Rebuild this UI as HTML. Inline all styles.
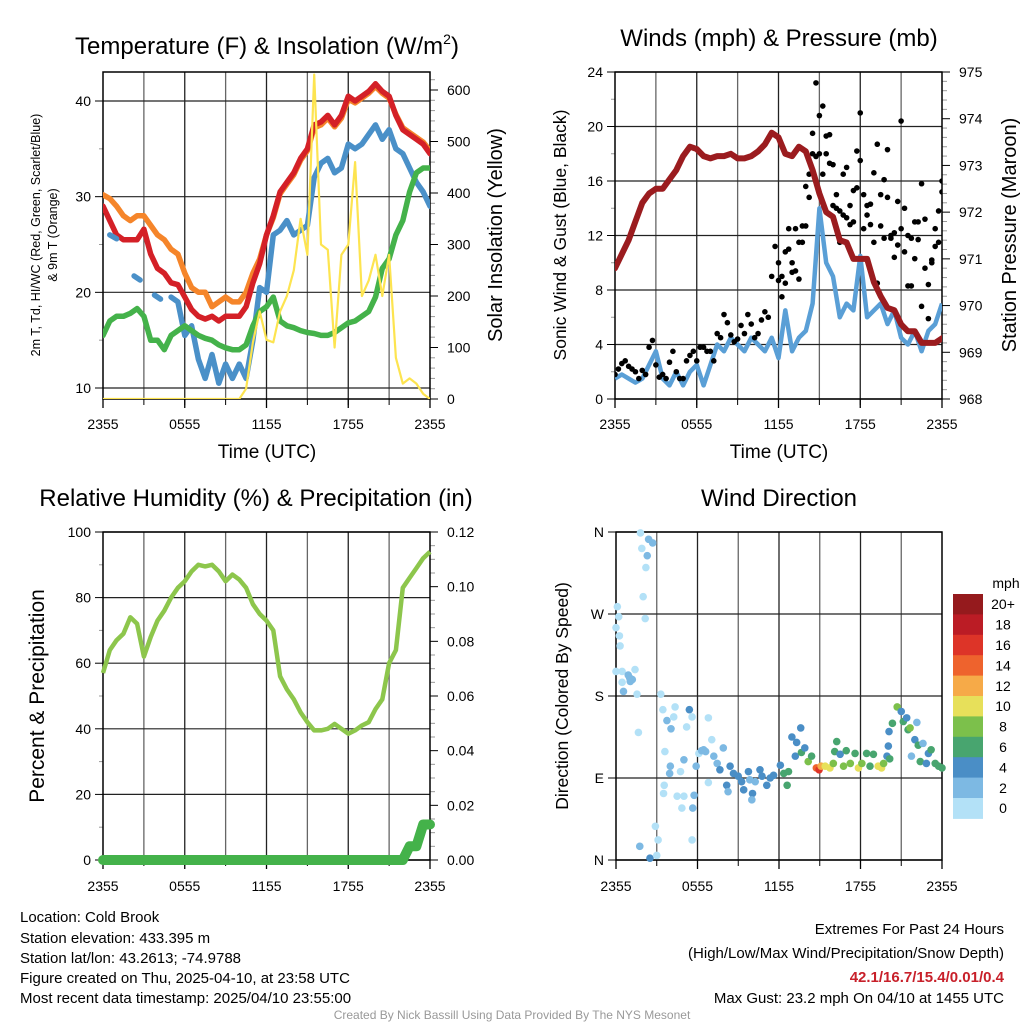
<!DOCTYPE html>
<html><head><meta charset="utf-8">
<style>
html,body{margin:0;padding:0;background:#fff;}
svg{display:block;font-family:"Liberation Sans",Arial,sans-serif;}
</style></head>
<body>
<svg id="c" width="1024" height="1024" viewBox="0 0 1024 1024" xmlns="http://www.w3.org/2000/svg">
<g id="g1"></g>
<g id="g2"></g>
<g id="g3"></g>
<g id="g4"></g>
<text x="267" y="54" text-anchor="middle" font-size="24">Temperature (F) &amp; Insolation (W/m<tspan font-size="14" dy="-10">2</tspan><tspan dy="10">)</tspan></text>
<g font-size="15" fill="#000">
<text x="20" y="922">Location: Cold Brook</text>
<text x="20" y="943">Station elevation: 433.395 m</text>
<text x="20" y="963">Station lat/lon: 43.2613; -74.9788</text>
<text x="20" y="983">Figure created on Thu, 2025-04-10, at 23:58 UTC</text>
<text x="20" y="1003">Most recent data timestamp: 2025/04/10 23:55:00</text>
<text x="1004" y="934" text-anchor="end">Extremes For Past 24 Hours</text>
<text x="1004" y="958" text-anchor="end">(High/Low/Max Wind/Precipitation/Snow Depth)</text>
<text x="1004" y="982" text-anchor="end" fill="#c8202a" font-weight="bold">42.1/16.7/15.4/0.01/0.4</text>
<text x="1004" y="1003" text-anchor="end">Max Gust: 23.2 mph On 04/10 at 1455 UTC</text>
<text x="512" y="1019" text-anchor="middle" font-size="12" fill="#999">Created By Nick Bassill Using Data Provided By The NYS Mesonet</text>
</g>
</svg>
<script>
// time grid (hours since 2355), half-hour steps
const hours = [0,0.5,1,1.5,2,2.5,3,3.5,4,4.5,5,5.5,6,6.5,7,7.5,8,8.5,9,9.5,10,10.5,11,11.5,12,12.5,13,13.5,14,14.5,15,15.5,16,16.5,17,17.5,18,18.5,19,19.5,20,20.5,21,21.5,22,22.5,23,23.5,24];
const tempRed = [29,27.5,26,25.5,25.5,25.5,26.6,24,22.5,22,21,20.8,19.5,18.2,17.5,17.2,17.5,17,17.5,17.5,17.5,18.5,21,23,26,28,30.5,31.5,32.5,34,35,37.5,37.8,38.5,37.5,38.5,40.5,40,40.5,41,41.8,41,40.5,38.5,37,36.5,36,35.5,34.5];
const tempOrange = [30.2,29.8,29,28,27.5,28,28,27,26,25.5,24.5,24,22,20.5,20,20,18.5,19,19.5,19,19,20,22,23.5,26,27.8,30.3,31.3,32.3,33.8,34.8,37.2,37.5,38.2,37.3,38.2,40.2,39.8,40.3,40.8,41.5,40.8,40.3,38.6,37.2,36.7,36.2,35.7,34.8];
const tempBlue = [null,26,25.6,null,null,21.5,null,null,19.5,null,19.5,19,15.5,16.5,13,11,13.5,10.5,12.5,11,12.5,11,15,20.5,20,26,26.5,27.5,26,26.5,27,32,33.5,34,32.5,33,35.5,35,35.5,36.5,37.5,36,37,35,34.5,33,31.5,30.5,29];
const tempGreen = [15.5,17,17.5,17.5,17.8,18.3,17.5,15,15,14,15.5,16,16.5,16,15.5,15.2,15,14.5,14.2,14,14,14.5,16.5,18,18.5,19.5,17,16.5,16.3,16,15.8,15.7,15.5,15.5,15.8,16.3,16.8,17,17.5,18,19.5,22.5,23.5,26,27.5,30.5,32.5,33,33];
const insolation = [0,0,0,0,0,0,0,0,0,0,0,0,0,0,0,0,0,0,0,0,0,20,110,170,115,110,170,200,250,350,280,630,300,290,100,280,300,460,200,230,280,200,280,80,30,40,30,10,0];
const windSpeed = [1.5,1.8,1.5,1.2,1.5,2.5,3.5,1.5,1,2,1,2,2.5,1,2.5,4,3.5,4.5,4,3.5,4.5,4,3.5,4.5,3,6.5,3.5,4.5,5,7,14,10,9,6,7,6.5,10.5,6,6.5,7,5.5,6.5,4.5,4,5,3.5,5,5.5,7];
const pressure = [970.8,971.1,971.4,971.8,972.2,972.4,972.5,972.5,972.7,972.9,973.2,973.4,973.35,973.2,973.15,973.2,973.2,973.25,973.15,973.15,973.2,973.3,973.45,973.7,973.6,973.25,973.2,973.4,973.3,972.9,972.4,972.0,971.9,971.4,971.35,971.0,971.0,971.0,970.5,970.2,969.95,969.9,969.6,969.45,969.45,969.2,969.2,969.2,969.3];
const humidity = [57,64,67,69,74,72,62,68,73,76,80,83,85,88,90,89.5,90,88,85,87,85.5,83,78,75,73,70,56,52,49,45,42,39.5,39.5,40,41.5,40,38.5,39.5,41,42,46,49,60,64,83,86,89,92,94];
const precip = [0,0,0,0,0,0,0,0,0,0,0,0,0,0,0,0,0,0,0,0,0,0,0,0,0,0,0,0,0,0,0,0,0,0,0,0,0,0,0,0,0,0,0,0,0,0.005,0.005,0.013,0.013];
// gusts at quarter-hour steps
const gustA = [1.8,2.2,2.6,2.8,2.4,2.2,2.0,1.5,2.1,1.8,3.8,4.3,2.5,1.6,1.8,1.5,2.7,3.5,2.0,1.5,1.5,2.8,3.2,3.5,2.8,3.8,3.8,3.5,3.5,2.8,4.8,4.5,6.2,5.6,4.7,4.2,4.4,5.4,4.8,6.2,5.5,4.5,4.8,5.8,6.4,6.0,9.0,11.2,8.7,7.5,10.8,11.0,9.3,12.5,11.5,12.7,15.6,14.8,18.0,23.2,20.8,21.5,18.0,19.4,17.2,14.0,11.5,13.5,17.0,14.2,13.0,15.5,21.0,15.0,13.5,14.3,11.5,8.5,12.7,16.1,18.3,11.8,12.2,14.5,20.4,10.8,12.0,8.3,13.0,11.7,6.8,13.2,5.9,10.2,11.2,11.5,15.2];
const gustB = [10.0,9.0,8.5,12.5,10.0,9.4,8.8,11.5,12.7,16.5,19.5,17.8,18.0,16.5,19.3,17.3,14.2,15.0,13.8,16.5,13.3,12.8,15.3,18.2,17.5,12.5,14.2,12.8,16.6,18.7,15.0,11.8,14.8,12.0,10.4,11.3,12.5,14.0,8.3,11.8,10.3,13.0,15.8,9.6,8.4,10.0,12.5,13.8,16.0];
// wind direction observations
const dirTimes = [0,0.1,0.2,0.25,0.3,0,0.45,0.45,0.55,0.9,1.05,1.0,1.2,1.4,1.55,1.65,1.8,1.9,2.0,2.15,2.2,2.3,2.4,2.7,2.9,1.75,2.5,3.0,3.1,3.3,3.45,3.6,3.55,3.5,3.75,4.05,4.0,3.95,4.35,4.25,4.5,4.75,4.85,5.0,5.0,5.2,5.4,5.6,5.6,5.75,5.65,5.9,6.1,6.3,6.45,6.6,6.8,6.8,7.05,7.2,7.45,7.65,7.9,8.15,8.25,8.4,8.65,9.0,9.25,9.4,9.75,9.85,10.05,10.0,10.25,10.6,10.75,11.1,11.35,11.6,12.1,12.35,12.6,12.7,12.95,13.2,13.3,13.6,13.65,13.9,14.15,14.4,14.75,14.95,15.1,15.4,15.75,16.0,16.1,16.25,16.5,16.75,16.95,17.25,17.6,17.85,18.1,18.45,18.7,18.95,19.3,19.55,19.7,19.95,20.05,20.15,20.1,20.35,20.7,21.0,21.15,21.4,21.5,21.65,21.75,22.0,22.15,22.25,22.4,22.6,22.85,23.0,23.2,23.5,23.75,24.0];
const dirDegrees = [255,278,267,246,235,207,207,195,185,203,196,200,198,209,182,140,359,342,289,265,321,334,352,348,37,15,2,5,22,182,165,119,82,73,153,144,103,95,168,157,70,97,57,70,110,146,165,157,22,71,57,103,117,120,121,119,156,85,132,114,106,99,123,82,75,103,95,92,86,77,97,88,73,66,86,99,92,82,90,93,104,95,82,97,135,114,129,145,118,123,108,114,101,99,103,103,101,106,119,130,116,103,120,106,117,101,106,117,103,116,103,101,106,114,125,111,141,150,168,163,152,156,143,145,114,132,151,126,108,128,106,117,121,106,103,101];
const dirSpeeds = [1,1,1,1,1,1,1,1,2.5,2,2,2.5,2,1,1,1,1,1,1,1,1,3,2,2.5,1,2.5,4,1,1,0.5,1,1,1,1,3,3,3,3,1,1,1,1,1,0.5,2,1,4,1,1,3,3,3,1,2,2,2,1,1,1,2,2,4,3,4,3,4,4,4,4,4,4,2,4,3,2,4,4,4,4,4,4,7,7,7,4,4,4,4,6,4,8,6,14,16,12,10,10,8,6,6,4,8,6,8,6,10,8,6,6,6,10,10,8,4,4,6,4,6,8,4,6,4,6,8,2,4,2,6,6,2,4,4,6,6,6,6];
const speedBins = ["0","2","4","6","8","10","12","14","16","18","20+"];
const binColors = ["#b3e1f7","#7db9e3","#4a8ec6","#48a56f","#7cc04b","#e7e05a","#f6aa48","#ee632d","#dd3428","#bb1c25","#951a1d"];

const NS="http://www.w3.org/2000/svg";
function el(tag, attrs, parent){const e=document.createElementNS(NS,tag);for(const k in attrs)e.setAttribute(k,attrs[k]);parent.appendChild(e);return e;}
function lin(d0,d1,r0,r1){return v=>r0+(v-d0)*(r1-r0)/(d1-d0);}
function txt(parent,x,y,s,size,anchor,name,extra){const t=el('text',{x:x,y:y,'font-size':size,'text-anchor':anchor||'start'},parent);


if(extra)for(const k in extra)t.setAttribute(k,extra[k]);t.textContent=s;return t;}
function linePath(xs,ys,sx,sy){let d='',pen=false;for(let i=0;i<xs.length;i++){if(ys[i]==null){pen=false;continue;}const X=sx(xs[i]),Y=sy(ys[i]);
 const isolated=!pen&&(i+1>=ys.length||ys[i+1]==null);
 if(isolated){d+='M'+(X-3).toFixed(1)+' '+(Y-2).toFixed(1)+'L'+(X+3).toFixed(1)+' '+(Y+2).toFixed(1);pen=false;continue;}
 d+=(pen?'L':'M')+X.toFixed(1)+' '+Y.toFixed(1);pen=true;}return d;}

function frame(g,x0,x1,y0,y1,sy,lt,sy2,rt){
  const sx=lin(0,24,x0,x1);
  for(let h=3;h<24;h+=3){const l=el('line',{x1:sx(h),x2:sx(h),y1:y0,y2:y1,stroke:(h%6===0?'#222':'#666'),'stroke-width':1.3},g);
  
  
  const tk=el('line',{x1:sx(h),x2:sx(h),y1:y1,y2:y1+6,stroke:'#000','stroke-width':1},g);
  
  }
  for(let h=0;h<=24;h+=6){const tk=el('line',{x1:sx(h),x2:sx(h),y1:y1,y2:y1+9,stroke:'#000','stroke-width':1.3},g);
  
  }
  lt.forEach(v=>{const y=sy(v.v);
    if(v.grid){const l=el('line',{x1:x0,x2:x1,y1:y,y2:y,stroke:'#222','stroke-width':1.2},g);
    
    }
    const tk=el('line',{x1:x0-(v.minor?4:8),x2:x0,y1:y,y2:y,stroke:v.minor?'#999':'#000','stroke-width':1},g);
    
    
    if(!v.minor)txt(g,x0-12,y+5,v.l,14,'end','left-tick-label');});
  if(rt)rt.forEach(v=>{const y=sy2(v.v);
    const tk=el('line',{x1:x1,x2:x1+(v.minor?5:8),y1:y,y2:y,stroke:v.minor?'#999':'#000','stroke-width':1},g);
    
    
    if(!v.minor)txt(g,x1+17,y+5,v.l,14,'start','right-tick-label');});
  const r=el('rect',{x:x0,y:y0,width:x1-x0,height:y1-y0,fill:'none',stroke:'#000','stroke-width':1.5},g);
  
  
  return sx;
}
function xlabels(g,sx,y,labels){labels.forEach((s,i)=>txt(g,sx(i*6),y,s,14,'middle','x-tick-label'));}
const xt=["2355","0555","1155","1755","2355"];
function ticks(a,b,step,minorStep,dec,gridEvery){const o=[];for(let v=a;v<=b+1e-9;v+=minorStep){const r=Math.round(v*1e6)/1e6;const major=Math.abs(r/step-Math.round(r/step))<1e-6;o.push({v:r,minor:!major,l:major?r.toFixed(dec):'',grid:major&&gridEvery});}return o;}

// ---------- Panel 1
(function(){const g=document.getElementById('g1');
 const x0=103,x1=430,y0=72,y1=399;
 const sy=lin(10,40,388,101), sy2=lin(0,600,399,90);
 const lt=ticks(10,40,10,5,0,true), rt=ticks(0,620,100,20,0,false);
 const sx=frame(g,x0,x1,y0,y1,sy,lt,sy2,rt);
 const clip=el('clipPath',{id:'cp1'},g);el('rect',{x:x0,y:y0,width:x1-x0,height:y1-y0},clip);
 const dg=el('g',{'clip-path':'url(#cp1)'},g);
 const series=[[tempOrange,'#f5852a',5.5,'orange-9m-temp-line'],[tempRed,'#d42027',5.5,'red-2m-temp-line'],[tempBlue,'#4a90c8',5.5,'blue-windchill-line'],[tempGreen,'#44b24a',5.5,'green-dewpoint-line']];
 series.forEach(s=>{const p=el('path',{d:linePath(hours,s[0],sx,sy),fill:'none',stroke:s[1],'stroke-width':s[2],'stroke-linejoin':'round','stroke-linecap':'round'},dg);
  
  });
 const py=el('path',{d:linePath(hours,insolation,sx,sy2),fill:'none',stroke:'#fde450','stroke-width':2.2,'stroke-linejoin':'round'},dg);
 
 
 xlabels(g,sx,429,xt);
 txt(g,267,458,'Time (UTC)',19,'middle','panel1-x-title');
 const yl=el('text',{transform:'translate(40,235) rotate(-90)','font-size':12.5,'text-anchor':'middle'},g);
 
 
 yl.textContent='2m T, Td, HI/WC (Red, Green, Scarlet/Blue)';
 const yl2=el('text',{transform:'translate(57,235) rotate(-90)','font-size':12.5,'text-anchor':'middle'},g);
 
 
 yl2.textContent='& 9m T (Orange)';
 const yr=el('text',{transform:'translate(502,235) rotate(-90)','font-size':20,'text-anchor':'middle'},g);
 
 
 yr.textContent='Solar Insolation (Yellow)';
})();

// ---------- Panel 2
(function(){const g=document.getElementById('g2');
 const x0=615,x1=942,y0=72,y1=399;
 const sy=lin(0,24,399,72), sy2=lin(968,975,399,72);
 const lt=ticks(0,24,4,2,0,true), rt=ticks(968,975,1,0.2,0,false);
 const sx=frame(g,x0,x1,y0,y1,sy,lt,sy2,rt);
 const clip=el('clipPath',{id:'cp2'},g);el('rect',{x:x0,y:y0,width:x1-x0,height:y1-y0},clip);
 const dg=el('g',{'clip-path':'url(#cp2)'},g);
 const pb=el('path',{d:linePath(hours,windSpeed,sx,sy),fill:'none',stroke:'#5a9fd6','stroke-width':4.5,'stroke-linejoin':'round'},dg);
 
 
 const gt=(arr,start)=>arr.forEach((v,i)=>{const c=el('circle',{cx:sx(start+i*0.25),cy:sy(v),r:2.8,fill:'#000'},dg);
  
  });
 gt(gustA,0);gt(gustB,12);
 const pp=el('path',{d:linePath(hours,pressure,sx,sy2),fill:'none',stroke:'#9b1c1f','stroke-width':6,'stroke-linejoin':'round','stroke-linecap':'round'},dg);
 
 
 xlabels(g,sx,429,xt);
 txt(g,779,46,'Winds (mph) & Pressure (mb)',24,'middle','panel2-title');
 txt(g,779,458,'Time (UTC)',19,'middle','panel2-x-title');
 const yl=el('text',{transform:'translate(566,235) rotate(-90)','font-size':17.5,'text-anchor':'middle'},g);
 
 
 yl.textContent='Sonic Wind & Gust (Blue, Black)';
 const yr=el('text',{transform:'translate(1016,235) rotate(-90)','font-size':20,'text-anchor':'middle'},g);
 
 
 yr.textContent='Station Pressure (Maroon)';
})();

// ---------- Panel 3
(function(){const g=document.getElementById('g3');
 const x0=103,x1=430,y0=532,y1=860;
 const sy=lin(0,100,860,532), sy2=lin(0,0.12,860,532);
 const lt=ticks(0,100,20,10,0,true), rt=ticks(0,0.12,0.02,0.005,2,false);
 const sx=frame(g,x0,x1,y0,y1,sy,lt,sy2,rt);
 const ph=el('path',{d:linePath(hours,humidity,sx,sy),fill:'none',stroke:'#8dc64c','stroke-width':4.5,'stroke-linejoin':'round'},g);
 
 
 const pr=el('path',{d:linePath(hours,precip,sx,sy2),fill:'none',stroke:'#44b24a','stroke-width':10,'stroke-linejoin':'round','stroke-linecap':'round'},g);
 
 
 xlabels(g,sx,891,xt);
 txt(g,256,506,'Relative Humidity (%) & Precipitation (in)',24,'middle','panel3-title');
 const yl=el('text',{transform:'translate(44,696) rotate(-90)','font-size':21,'text-anchor':'middle'},g);
 
 
 yl.textContent='Percent & Precipitation';
})();

// ---------- Panel 4
(function(){const g=document.getElementById('g4');
 const x0=616,x1=942,y0=532,y1=860;
 const sy=lin(0,360,860,532);
 const lt=[{v:0,l:'N',grid:true},{v:90,l:'E',grid:true},{v:180,l:'S',grid:true},{v:270,l:'W',grid:true},{v:360,l:'N',grid:true}];
 const sx=frame(g,x0,x1,y0,y1,sy,lt,null,null);
 dirTimes.forEach((t,i)=>{const b=Math.min(10,Math.floor(dirSpeeds[i]/2));
  const c=el('circle',{cx:sx(t),cy:sy(dirDegrees[i]),r:3.8,fill:binColors[b]},g);
  
  });
 xlabels(g,sx,891,xt);
 txt(g,779,506,'Wind Direction',24,'middle','panel4-title');
 const yl=el('text',{transform:'translate(568,696) rotate(-90)','font-size':17.5,'text-anchor':'middle'},g);
 
 
 yl.textContent='Direction (Colored By Speed)';
 const cb=el('g',{},g);
 
 
 const top=594,h=20.4;
 speedBins.forEach((s,i)=>{const idx=10-i;
  const r=el('rect',{x:953,y:top+i*h,width:30,height:h+0.5,fill:binColors[idx]},cb);
  
  
  txt(cb,1003,top+i*h+h/2+5,speedBins[idx],14,'middle','colorbar-label');});
 txt(cb,1006,588,'mph',14,'middle','colorbar-unit');
})();
</script>
</body></html>
